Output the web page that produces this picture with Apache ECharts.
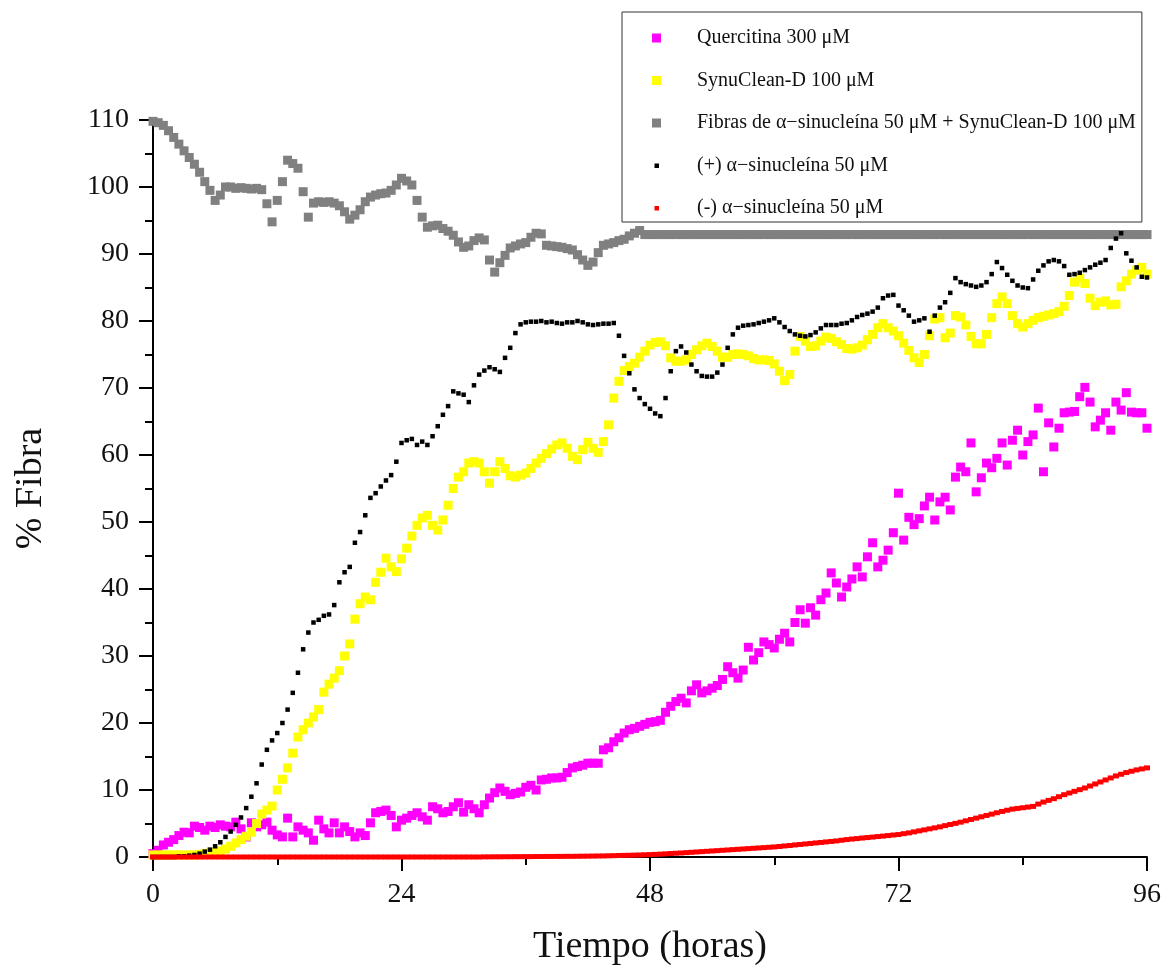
<!DOCTYPE html>
<html>
<head>
<meta charset="utf-8">
<title>% Fibra vs Tiempo</title>
<script src="https://cdn.jsdelivr.net/npm/echarts@6/dist/echarts.min.js"></script>
<style>
  html, body { margin: 0; padding: 0; background: #ffffff; }
  #chart { width: 1164px; height: 972px; }
</style>
</head>
<body>
<div id="chart"></div>
<script>
// Readings every half hour, from 0 h to 96 h (193 per series).
const STEP_HOURS = 0.5;
const xTicks = [0, 24, 48, 72, 96];

const seriesNames = [
  'Quercitina 300 μM',
  'SynuClean-D 100 μM',
  'Fibras de α−sinucleína 50 μM + SynuClean-D 100 μM',
  '(+) α−sinucleína 50 μM',
  '(-) α−sinucleína 50 μM'
];

// one row = 5 h (10 readings)
const quercitina = [
  0.5, 1, 1.8, 2.2, 2.6, 3.2, 3.7, 3.6, 4.6, 4.4,
  4, 4.6, 4.4, 4.8, 4.6, 4.5, 5.2, 4.2, 3, 5.1,
  4.5, 4.8, 5.2, 4, 3.3, 3, 5.8, 3, 4.5, 4,
  3.6, 2.5, 5.5, 4.2, 3.6, 5.1, 3.6, 4.5, 3.8, 3,
  3.6, 3.2, 5.1, 6.6, 6.8, 7, 6.2, 4.5, 5.5, 5.8,
  6.2, 6.6, 6, 5.5, 7.5, 7.2, 6.6, 6.8, 7.5, 8.1,
  6.7, 7.8, 7.2, 6.6, 7.8, 8.8, 9.6, 10.3, 9.8, 9.3,
  9.5, 9.7, 10.4, 10.7, 10, 11.5, 11.6, 11.8, 11.8, 11.9,
  12.6, 13.3, 13.5, 13.7, 14, 14, 14, 16, 16.3, 17.2,
  17.8, 18.5, 19, 19.2, 19.5, 19.8, 20.1, 20.2, 20.4, 21.6,
  22.5, 23.2, 23.7, 23, 24.8, 25.7, 24.5, 24.8, 25.2, 25.6,
  26.5, 28.4, 27.5, 26.7, 27.9, 31.3, 29.4, 30.5, 32.1, 31.7,
  31.2, 32.5, 33.4, 32.1, 35, 36.9, 34.9, 37.2, 36.1, 38.4,
  39.4, 42.4, 40.9, 38.8, 40.3, 41.5, 43.3, 41.8, 44.8, 46.9,
  43.3, 44.3, 45.8, 48.4, 54.3, 47.3, 50.7, 49.6, 50.5, 52.4,
  53.7, 50.3, 53, 53.7, 51.8, 56.7, 58.2, 57.5, 61.8, 54.5,
  56.6, 58.8, 58.1, 59.5, 61.8, 58.5, 62.2, 63.7, 60, 62,
  63, 67, 57.5, 64.8, 61.2, 64, 66.3, 66.4, 66.5, 68.7,
  70.1, 67.9, 64.2, 65.2, 66.3, 63.7, 67.9, 66.7, 69.3, 66.4,
  66.3, 66.3, 64
];

const synuClean = [
  0.3, 0.3, 0.3, 0.3, 0.3, 0.3, 0.3, 0.3, 0.3, 0.4,
  0.5, 0.6, 0.7, 0.9, 1.2, 1.6, 2.1, 2.6, 3.1, 3.7,
  5, 6.4, 7, 7.6, 10, 11.6, 13.3, 15.5, 17.9, 19,
  20, 20.9, 22, 24.6, 25.8, 26.7, 27.8, 30, 31.8, 35.5,
  37.8, 38.8, 38.4, 41, 42.5, 44.6, 43.3, 42.6, 44.5, 46.1,
  47.9, 49.5, 50.6, 51, 49.5, 48.8, 50.3, 52.5, 55, 56.7,
  57.5, 58.8, 59, 58.8, 57.5, 55.8, 57.5, 59, 58, 56.9,
  56.7, 57, 57.3, 58, 58.8, 59.5, 60.2, 60.9, 61.5, 61.8,
  61, 59.8, 59.3, 60.8, 61.9, 61, 60.4, 62, 64.5, 68.5,
  71, 72.6, 73.2, 73.7, 74.6, 75.5, 76.4, 76.8, 76.9, 76.3,
  74.5, 74, 74, 74.2, 75, 75.7, 76.3, 76.7, 76.2, 75.5,
  74.6, 74.6, 75, 75.1, 75, 74.8, 74.4, 74.2, 74.2, 74.1,
  73.6, 72.5, 71.1, 72, 75.5, 77.7, 77, 76.2, 76.3, 77,
  77.6, 77.4, 76.9, 76.5, 75.9, 75.8, 76, 76.4, 77.2, 78,
  79, 79.6, 79, 78.5, 77.8, 76.7, 75.6, 74.5, 73.8, 75,
  77.8, 80.3, 80.5, 77.5, 78.2, 80.8, 80.6, 79.4, 77.7, 76.6,
  76.6, 78, 80.5, 82.6, 83.6, 82.6, 80.8, 79.6, 79.1, 79.6,
  80.1, 80.5, 80.7, 80.9, 81.1, 81.4, 82.2, 83.8, 85.8, 86.4,
  85.6, 83.4, 82.3, 82.8, 83, 82.4, 82.5, 85.1, 86, 87,
  87.6, 88, 87
];

const fibrasSynuClean = [
  109.8, 109.6, 109.2, 108.4, 107.4, 106.4, 105.4, 104.4, 103.4, 102.2,
  100.8, 99.5, 98, 98.8, 100, 100, 99.8, 99.9, 99.8, 99.7,
  99.8, 99.6, 97.5, 94.8, 98, 100.8, 104, 103.5, 102.8, 99.3,
  95.5, 97.6, 97.8, 97.7, 97.8, 97.6, 97.2, 96.3, 95.2, 95.8,
  96.6, 97.8, 98.5, 98.8, 99, 99.1, 99.5, 100.3, 101.3, 100.9,
  100.3, 98, 95.5, 94, 94.2, 94.3, 93.8, 93.4, 92.8, 91.8,
  91, 91.2, 92, 92.4, 92.1, 89.1, 87.3, 88.7, 89.8, 90.9,
  91.2, 91.5, 91.7, 92.5, 93.1, 93, 91.3, 91.2, 91.1, 91,
  90.8, 90.6, 89.9, 89.1, 88.3, 88.8, 90.2, 91.3, 91.5, 91.7,
  92, 92.2, 92.7, 93.1, 93.5, 92.9, 92.9, 92.9, 92.9, 92.9,
  92.9, 92.9, 92.9, 92.9, 92.9, 92.9, 92.9, 92.9, 92.9, 92.9,
  92.9, 92.9, 92.9, 92.9, 92.9, 92.9, 92.9, 92.9, 92.9, 92.9,
  92.9, 92.9, 92.9, 92.9, 92.9, 92.9, 92.9, 92.9, 92.9, 92.9,
  92.9, 92.9, 92.9, 92.9, 92.9, 92.9, 92.9, 92.9, 92.9, 92.9,
  92.9, 92.9, 92.9, 92.9, 92.9, 92.9, 92.9, 92.9, 92.9, 92.9,
  92.9, 92.9, 92.9, 92.9, 92.9, 92.9, 92.9, 92.9, 92.9, 92.9,
  92.9, 92.9, 92.9, 92.9, 92.9, 92.9, 92.9, 92.9, 92.9, 92.9,
  92.9, 92.9, 92.9, 92.9, 92.9, 92.9, 92.9, 92.9, 92.9, 92.9,
  92.9, 92.9, 92.9, 92.9, 92.9, 92.9, 92.9, 92.9, 92.9, 92.9,
  92.9, 92.9, 92.9
];

const alfaSinucleina = [
  0, 0, 0, 0, 0, 0.1, 0.1, 0.2, 0.3, 0.5,
  0.8, 1.1, 1.6, 2.2, 3, 3.8, 4.8, 5.9, 7.3, 9,
  11, 13.8, 16, 17.4, 18.5, 20, 22, 24.5, 27.5, 31,
  33.5, 35, 35.4, 36, 36.2, 37.6, 41, 42.5, 43.3, 46.9,
  48.5, 51, 53.6, 54.3, 55.3, 56.2, 57, 59, 61.8, 62.2,
  62.4, 61.5, 62, 61.5, 62.8, 64.3, 66, 67.3, 69.5, 69.2,
  69, 67.9, 70.4, 72, 72.6, 73.1, 72.8, 72.4, 74.5, 76,
  78.2, 79.5, 79.8, 79.9, 79.9, 80, 79.8, 79.9, 79.7, 79.6,
  79.8, 79.8, 80, 79.8, 79.5, 79.4, 79.5, 79.6, 79.6, 79.7,
  77.8, 74.8, 72.2, 69.8, 68.5, 67.6, 66.9, 66.2, 65.8, 68.5,
  72.5, 75.5, 76.2, 75.3, 73.5, 72.5, 71.8, 71.7, 71.7, 72.3,
  73.5, 76, 78, 79, 79.3, 79.4, 79.5, 79.7, 79.9, 80.1,
  80.4, 79.8, 79.1, 78.5, 78, 77.8, 77.7, 77.9, 78.3, 78.9,
  79.4, 79.4, 79.4, 79.6, 79.7, 80.1, 80.6, 80.9, 81.1, 81.4,
  82, 83.4, 83.8, 83.9, 82.3, 81.6, 80.8, 79.9, 80.1, 80.4,
  78.4, 80.8, 82, 82.8, 84.2, 86.4, 85.8, 85.5, 85.3, 85.1,
  85.3, 85.8, 87, 88.8, 87.9, 86.9, 86, 85.3, 85, 84.9,
  86.2, 87.5, 88.3, 88.9, 89.1, 88.9, 88.2, 86.9, 87, 87.2,
  87.6, 88, 88.4, 88.7, 89.1, 90.9, 92.3, 93.1, 90.1, 89,
  88, 86.6, 86.5
];

const sinAlfaSinucleina = [
  0, 0, 0, 0, 0, 0, 0, 0, 0, 0,
  0, 0, 0, 0, 0, 0, 0, 0, 0, 0,
  0, 0, 0, 0, 0, 0, 0, 0, 0, 0,
  0, 0, 0, 0, 0, 0, 0, 0, 0, 0,
  0, 0, 0, 0, 0, 0, 0, 0, 0, 0,
  0, 0, 0, 0, 0, 0, 0, 0, 0, 0,
  0, 0, 0, 0, 0.02, 0.02, 0.03, 0.03, 0.04, 0.04,
  0.05, 0.05, 0.06, 0.06, 0.07, 0.07, 0.08, 0.08, 0.09, 0.09,
  0.1, 0.1, 0.11, 0.12, 0.13, 0.14, 0.15, 0.16, 0.18, 0.2,
  0.22, 0.24, 0.26, 0.28, 0.3, 0.33, 0.36, 0.39, 0.43, 0.47,
  0.52, 0.56, 0.6, 0.65, 0.7, 0.75, 0.8, 0.85, 0.9, 0.95,
  1, 1.05, 1.1, 1.15, 1.2, 1.25, 1.3, 1.35, 1.4, 1.45,
  1.5, 1.57, 1.65, 1.72, 1.8, 1.87, 1.95, 2.02, 2.1, 2.17,
  2.25, 2.32, 2.4, 2.5, 2.6, 2.68, 2.75, 2.83, 2.9, 2.97,
  3.05, 3.12, 3.2, 3.28, 3.35, 3.48, 3.6, 3.75, 3.9, 4.05,
  4.2, 4.35, 4.5, 4.68, 4.85, 5.02, 5.2, 5.4, 5.6, 5.8,
  6, 6.2, 6.4, 6.6, 6.8, 6.98, 7.15, 7.25, 7.35, 7.45,
  7.55, 7.9, 8.2, 8.45, 8.7, 9, 9.3, 9.55, 9.8, 10.05,
  10.3, 10.6, 10.9, 11.2, 11.5, 11.8, 12.1, 12.35, 12.6, 12.8,
  13, 13.15, 13.3
];

const FONT = "'Liberation Serif', 'Times New Roman', 'DejaVu Serif', serif";

function toPoints(values) {
  return values.map((v, i) => [i * STEP_HOURS, v]);
}

// square markers; the small ones keep a blank margin so they stay small in the legend
const ICON_BIG = 'path://M0,0h9v9h-9z';
const ICON_SMALL = 'path://M0,0M9,9M2.5,2.5h4.5v4.5h-4.5z';

const seriesDefs = [
  { values: quercitina,        color: '#ff00ff', size: 9,      icon: ICON_BIG },
  { values: synuClean,         color: '#ffff00', size: 9,      icon: ICON_BIG },
  { values: fibrasSynuClean,   color: '#808080', size: 9,      icon: ICON_BIG },
  { values: alfaSinucleina,    color: '#000000', size: 4.5,    icon: ICON_SMALL },
  { values: sinAlfaSinucleina, color: '#ff0000', size: [6, 5], icon: ICON_SMALL }
];

const chart = echarts.init(document.getElementById('chart'), null, { renderer: 'canvas' });

chart.setOption({
  animation: false,
  backgroundColor: '#ffffff',
  textStyle: { fontFamily: FONT },
  grid: { left: 153, right: 17, top: 120, bottom: 115, containLabel: false },
  legend: {
    orient: 'vertical',
    left: 622,
    top: 12,
    padding: [15, 6, 3, 30],
    itemGap: 20.5,
    itemWidth: 9,
    itemHeight: 9,
    borderColor: '#333333',
    borderWidth: 1,
    backgroundColor: '#ffffff',
    selectedMode: false,
    textStyle: {
      fontFamily: FONT,
      fontSize: 20,
      color: '#111111',
      lineHeight: 22,
      padding: [0, 0, 0, 31]
    },
    data: seriesNames.map((name, i) => ({ name, icon: seriesDefs[i].icon }))
  },
  xAxis: {
    type: 'value',
    min: xTicks[0],
    max: xTicks[xTicks.length - 1],
    interval: xTicks[1] - xTicks[0],
    name: 'Tiempo (horas)',
    nameLocation: 'middle',
    nameGap: 71,
    nameTextStyle: { fontFamily: FONT, fontSize: 38, color: '#111111' },
    axisLine: { onZero: false, lineStyle: { color: '#000000', width: 2 } },
    axisTick: { show: true, inside: false, length: 14, lineStyle: { color: '#000000', width: 2 } },
    minorTick: { show: true, splitNumber: 2, length: 8, lineStyle: { color: '#000000', width: 2 } },
    axisLabel: { fontFamily: FONT, fontSize: 28, color: '#111111', margin: 24 },
    splitLine: { show: false },
    minorSplitLine: { show: false }
  },
  yAxis: {
    type: 'value',
    min: 0,
    max: 110,
    interval: 10,
    name: '% Fibra',
    nameLocation: 'middle',
    nameGap: 103,
    nameTextStyle: { fontFamily: FONT, fontSize: 38, color: '#111111' },
    axisLine: { show: true, onZero: false, lineStyle: { color: '#000000', width: 2 } },
    axisTick: { show: true, inside: false, length: 14, lineStyle: { color: '#000000', width: 2 } },
    minorTick: { show: true, splitNumber: 2, length: 8, lineStyle: { color: '#000000', width: 2 } },
    axisLabel: { fontFamily: FONT, fontSize: 28, color: '#111111', margin: 24 },
    splitLine: { show: false },
    minorSplitLine: { show: false }
  },
  series: seriesDefs.map((def, i) => ({
    name: seriesNames[i],
    type: 'scatter',
    symbol: 'rect',
    symbolSize: def.size,
    itemStyle: { color: def.color, opacity: 1 },
    emphasis: { disabled: true },
    clip: false,
    z: 2 + i,
    data: toPoints(def.values)
  }))
});
</script>
</body>
</html>
